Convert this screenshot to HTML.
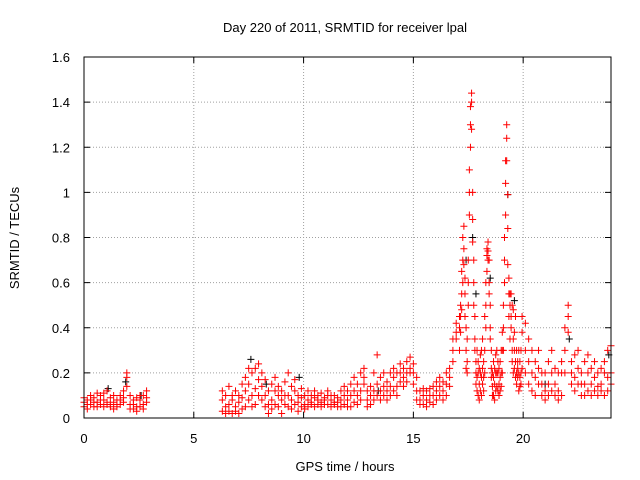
<!DOCTYPE html>
<html><head><meta charset="utf-8"><style>
body{margin:0;background:#fff;}
svg{display:block;font-family:"Liberation Sans",sans-serif;}
</style></head><body>
<svg id="chart" width="640" height="480">
<rect width="640" height="480" fill="#fff"/>
<text x="345" y="32" font-size="13" text-anchor="middle">Day 220 of 2011, SRMTID for receiver lpal</text>
<text x="345" y="471" font-size="13" text-anchor="middle">GPS time / hours</text>
<text transform="translate(19,238) rotate(-90)" font-size="13" text-anchor="middle">SRMTID / TECUs</text>
<g id="grid"></g><g id="ticks"></g><g id="marks"></g>
<rect x="84" y="57" width="527" height="361" fill="none" stroke="#000"/>
</svg>
<script>
const xTicks=[0,5,10,15,20];
const yTicks=[0,0.2,0.4,0.6,0.8,1,1.2,1.4,1.6];
const yTickLabels=["0","0.2","0.4","0.6","0.8","1","1.2","1.4","1.6"];
const hours=[0,0.15,0.3,0.45,0.6,0.75,0.9,1.05,1.2,1.35,1.5,1.65,1.8,1.95,2.1,2.25,2.4,2.55,2.7,2.85,
6.3,6.45,6.6,6.75,6.9,7.05,7.2,7.35,7.5,7.65,7.8,7.95,8.1,8.25,8.4,8.55,8.7,8.85,9,9.15,9.3,9.45,9.6,9.75,9.9,10.05,10.2,10.35,10.5,10.65,10.8,10.95,11.1,11.25,11.4,11.55,11.7,11.85,12,
12.15,12.3,12.45,12.6,12.75,12.9,13.05,13.2,13.35,13.5,13.65,13.8,13.95,14.1,14.25,14.4,14.55,14.7,14.85,15,15.15,15.3,15.45,15.6,15.75,15.9,16.05,16.2,16.35,16.5,16.65,16.8,16.95,17.1,
17.15,17.2,17.25,17.3,17.35,17.4,17.45,17.5,17.55,17.6,17.65,17.7,17.75,17.8,17.85,17.9,17.95,18,18.05,18.1,18.15,18.2,18.25,18.3,18.35,18.4,18.45,18.5,18.55,18.6,18.65,18.7,18.75,18.8,18.85,18.9,18.95,19,19.05,19.1,19.15,19.2,19.25,19.3,19.35,19.4,19.45,19.5,19.55,19.6,19.65,19.7,19.75,19.8,19.85,19.9,19.95,
20.1,20.25,20.4,20.55,20.7,20.85,21,21.15,21.3,21.45,21.6,21.75,21.9,22.05,22.2,22.35,22.5,22.65,22.8,22.95,23.1,23.25,23.4,23.55,23.7,23.85,24];
const srmtidA=[.07,.06,.08,.09,.07,.1,.08,.06,.09,.07,.05,.08,.12,.18,.06,.04,.05,.08,.1,.09,
.08,.05,.06,.02,.05,.07,.09,.12,.15,.1,.13,.24,.2,.1,.06,.08,.12,.05,.08,.16,.1,.04,.12,.07,.09,.06,.08,.1,.05,.08,.07,.09,.06,.08,.1,.07,.05,.1,.08,
.1,.12,.06,.2,.22,.08,.1,.2,.15,.12,.2,.16,.1,.18,.14,.2,.22,.2,.22,.24,.12,.08,.1,.08,.07,.1,.12,.14,.12,.15,.18,.25,.35,.4,
.45,.55,.8,.85,.62,.4,.35,.5,.9,1.2,1.44,1,.7,.35,.25,.18,.2,.15,.2,.18,.22,.25,.3,.5,.75,.78,.7,.5,.3,.2,.18,.15,.12,.2,.2,.15,.25,.2,.3,.4,.6,.9,1.24,.99,.55,.5,.55,.5,.2,.38,.45,.3,.25,.2,.25,.2,.45,
.42,.35,.2,.18,.3,.15,.12,.15,.2,.15,.12,.2,.3,.5,.25,.18,.22,.2,.15,.2,.15,.18,.2,.15,.2,.3,.32];
const srmtidB=[.05,.08,.06,.05,.11,.06,.05,.12,.06,.04,.08,.06,.07,.2,.1,.08,.03,.05,.06,.12,
.03,.1,.14,.08,.12,.02,.15,.05,.08,.2,.06,.1,.08,.05,.12,.15,.06,.1,.02,.06,.2,.14,.06,.1,.05,.1,.12,.06,.09,.06,.11,.06,.1,.05,.07,.09,.08,.06,.12,
.05,.07,.1,.12,.18,.05,.14,.08,.1,.18,.1,.12,.2,.12,.2,.16,.18,.25,.27,.2,.18,.12,.06,.12,.1,.06,.08,.1,.16,.1,.14,.3,.38,.45,
.5,.65,.7,.75,.55,.3,.25,.6,1,1.3,1.4,.88,.6,.3,.2,.3,.1,.22,.12,.3,.15,.12,.2,.4,.72,.74,.6,.4,.22,.14,.1,.22,.2,.14,.12,.22,.18,.3,.2,.5,.7,1.04,1.3,.84,.45,.35,.45,.3,.48,.3,.25,.2,.18,.3,.18,.3,.38,
.3,.25,.12,.25,.15,.1,.2,.25,.12,.22,.2,.1,.4,.45,.2,.28,.15,.1,.25,.12,.22,.12,.14,.22,.1,.18,.2];
const srmtidC=[.09,.04,.1,.07,.05,.08,.11,.07,.05,.1,.06,.1,.09,.14,.04,.06,.09,.1,.04,.07,
.12,.02,.03,.1,.03,.1,.04,.18,.22,.05,.22,.17,.14,.17,.02,.04,.18,.14,.12,.1,.05,.08,.17,.03,.13,.04,.05,.07,.12,.1,.05,.08,.12,.1,.06,.05,.12,.14,.05,
.15,.18,.15,.08,.15,.12,.06,.12,.28,.08,.14,.08,.14,.22,.1,.24,.14,.16,.2,.15,.08,.06,.13,.05,.13,.14,.16,.18,.08,.2,.22,.35,.42,.3,
.38,.48,.6,.68,.45,.22,.2,.7,1.1,1.38,1.28,.78,.5,.45,.15,.12,.25,.08,.28,.1,.35,.18,.45,.6,.65,.7,.55,.35,.18,.1,.25,.08,.28,.3,.25,.1,.12,.14,.38,.3,.8,1.14,1.14,.68,.62,.55,.4,.25,.35,.22,.18,.15,.22,.12,.14,.15,.22,
.2,.15,.3,.1,.22,.2,.08,.1,.3,.1,.08,.25,.2,.38,.15,.12,.3,.15,.1,.28,.1,.25,.1,.12,.25,.12,.15];
const blackHours=[1.1,1.9,2.6,7.6,8.3,9.8,13.4,17.4,17.7,17.85,18.5,19.3,19.6,21,22.1,23.9];
const blackVals=[.13,.16,.1,.26,.15,.18,.12,.7,.8,.55,.62,.99,.52,.15,.35,.28];

const X0=84,X1=611,Y0=418,Y1=57;
const xs=h=>X0+h/24*(X1-X0);
const ys=v=>Y0-v/1.6*(Y0-Y1);
const NS="http://www.w3.org/2000/svg";
const grid=document.getElementById('grid'),ticks=document.getElementById('ticks'),marks=document.getElementById('marks');
function mk(tag,attrs,parent){const e=document.createElementNS(NS,tag);for(const k in attrs)e.setAttribute(k,attrs[k]);parent.appendChild(e);return e;}
xTicks.forEach(t=>{const x=xs(t);
 if(t>0){const g=mk('line',{x1:x,x2:x,y1:Y0,y2:Y1,stroke:'#a0a0a0','stroke-dasharray':'1,2'},grid);
 
 }
 mk('line',{x1:x,x2:x,y1:Y0,y2:Y0-6,stroke:'#000'},ticks);mk('line',{x1:x,x2:x,y1:Y1,y2:Y1+6,stroke:'#000'},ticks);
 const l=mk('text',{x:x,y:443,'font-size':13,'text-anchor':'middle'},ticks);l.textContent=t;
 
 });
yTicks.forEach((t,i)=>{const y=ys(t);
 if(t>0&&t<1.6){const g=mk('line',{x1:X0,x2:X1,y1:y,y2:y,stroke:'#a0a0a0','stroke-dasharray':'1,2'},grid);
 
 }
 mk('line',{x1:X0,x2:X0+6,y1:y,y2:y,stroke:'#000'},ticks);mk('line',{x1:X1,x2:X1-6,y1:y,y2:y,stroke:'#000'},ticks);
 const l=mk('text',{x:70,y:y+5,'font-size':13,'text-anchor':'end'},ticks);l.textContent=yTickLabels[i];
 
 });
function crosses(hs,vs,color,name){let d='';
 hs.forEach((h,i)=>{const x=xs(h),y=ys(vs[i]);d+=`M${x-3.5},${y}h7M${x},${y-3.5}v7`;});
 const p=mk('path',{d:d,stroke:color,'stroke-width':1,fill:'none'},marks);
 
 }
crosses(blackHours,blackVals,'#000','series-black-points');
crosses(hours,srmtidA,'#ff0000','series-a-points');
crosses(hours,srmtidB,'#ff0000','series-b-points');
crosses(hours,srmtidC,'#ff0000','series-c-points');
</script>
</body></html>
